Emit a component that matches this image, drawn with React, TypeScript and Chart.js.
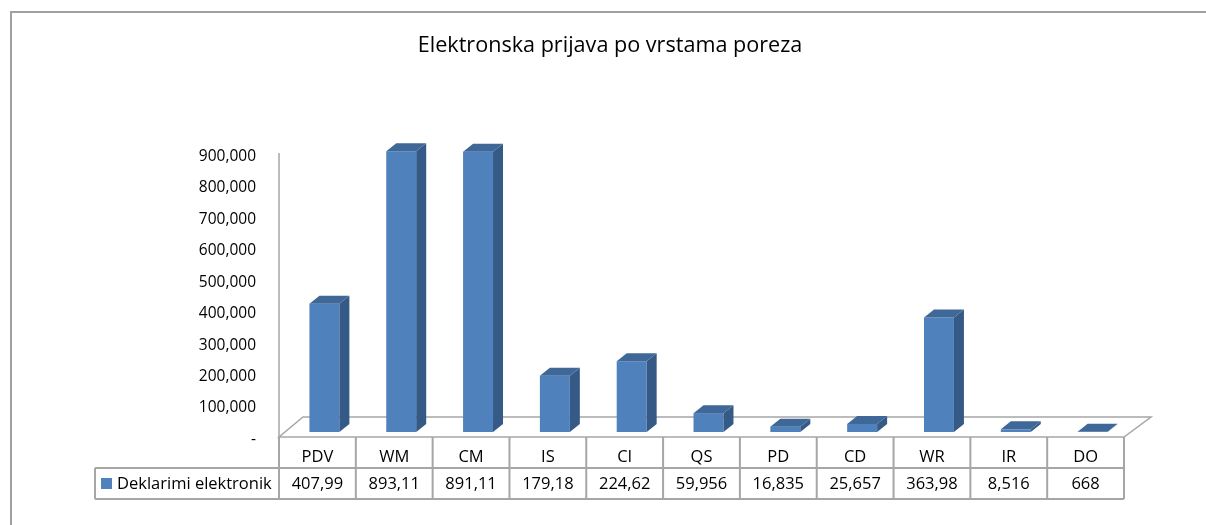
import React, { useEffect, useRef } from "react";
import { Chart, registerables } from "chart.js";

Chart.register(...registerables);

const chartTitle = "Elektronska prijava po vrstama poreza";
const seriesName = "Deklarimi elektronik";
const categories = ["PDV", "WM", "CM", "IS", "CI", "QS", "PD", "CD", "WR", "IR", "DO"];
const values = [407990, 893110, 891110, 179180, 224620, 59956, 16835, 25657, 363980, 8516, 668];
const tableLabels = ["407,99", "893,11", "891,11", "179,18", "224,62", "59,956", "16,835", "25,657", "363,98", "8,516", "668"];
const yMin = 0;
const yMax = 900000;
const yStep = 100000;

const FONT = "'Open Sans', 'Liberation Sans', sans-serif";
const FRONT = "#4F81BD";
const SIDE = "#355A86";
const TOP = "#3F6899";
const LINE = "#A6A6A6";

const SHIFT = 7; // bars sit at mid depth of the floor
const FLOOR_DX = 25;
const FLOOR_DY = -20;
const BAR_DX = 10;
const BAR_DY = -8;
const ROW_H = 31;

const threeD = {
  id: "threeD",
  beforeDatasetsDraw(chart: any) {
    const ctx = chart.ctx;
    const { left, right, top } = chart.chartArea;
    const y0 = chart.scales.y.getPixelForValue(0);
    const fy = y0 + 5;
    const fx0 = left - SHIFT;
    const fx1 = right - SHIFT;
    ctx.save();
    // outer border
    ctx.strokeStyle = "#A0A0A0";
    ctx.lineWidth = 2;
    ctx.beginPath();
    ctx.moveTo(11, 600);
    ctx.lineTo(11, 12);
    ctx.lineTo(1300, 12);
    ctx.stroke();
    // floor
    ctx.strokeStyle = LINE;
    ctx.lineWidth = 1.5;
    ctx.beginPath();
    ctx.moveTo(fx0, fy);
    ctx.lineTo(fx1, fy);
    ctx.lineTo(fx1 + FLOOR_DX + 2, fy + FLOOR_DY);
    ctx.lineTo(fx0 + FLOOR_DX - 1, fy + FLOOR_DY);
    ctx.closePath();
    ctx.stroke();
    // vertical axis line
    ctx.beginPath();
    ctx.moveTo(fx0, fy);
    ctx.lineTo(fx0, top + 4);
    ctx.stroke();
    ctx.restore();
  },
  afterDatasetsDraw(chart: any) {
    const ctx = chart.ctx;
    const meta = chart.getDatasetMeta(0);
    ctx.save();
    meta.data.forEach((bar: any) => {
      const x0 = bar.x - bar.width / 2;
      const x1 = bar.x + bar.width / 2;
      const t = Math.min(bar.y, bar.base);
      const b = Math.max(bar.y, bar.base);
      ctx.fillStyle = SIDE;
      ctx.beginPath();
      ctx.moveTo(x1, t);
      ctx.lineTo(x1 + BAR_DX, t + BAR_DY);
      ctx.lineTo(x1 + BAR_DX, b + BAR_DY);
      ctx.lineTo(x1, b);
      ctx.closePath();
      ctx.fill();
      ctx.fillStyle = TOP;
      ctx.beginPath();
      ctx.moveTo(x0, t);
      ctx.lineTo(x1, t);
      ctx.lineTo(x1 + BAR_DX, t + BAR_DY);
      ctx.lineTo(x0 + BAR_DX, t + BAR_DY);
      ctx.closePath();
      ctx.fill();
    });
    ctx.restore();
  },
  afterDraw(chart: any) {
    const ctx = chart.ctx;
    const { left, right } = chart.chartArea;
    const y0 = chart.scales.y.getPixelForValue(0);
    const fy = y0 + 5;
    const fx0 = left - SHIFT;
    const fx1 = right - SHIFT;
    const n = categories.length;
    const colW = (fx1 - fx0) / n;
    const labelX0 = 95;
    ctx.save();
    // title
    ctx.fillStyle = "#000";
    ctx.font = `21.6px ${FONT}`;
    ctx.textAlign = "center";
    ctx.textBaseline = "middle";
    ctx.fillText(chartTitle, 610, 46);
    // table grid
    ctx.strokeStyle = LINE;
    ctx.lineWidth = 2;
    ctx.beginPath();
    ctx.moveTo(fx0, fy + ROW_H);
    ctx.lineTo(fx1, fy + ROW_H);
    ctx.moveTo(labelX0, fy + ROW_H);
    ctx.lineTo(fx0, fy + ROW_H);
    ctx.moveTo(labelX0, fy + 2 * ROW_H);
    ctx.lineTo(fx1, fy + 2 * ROW_H);
    ctx.moveTo(labelX0, fy + ROW_H);
    ctx.lineTo(labelX0, fy + 2 * ROW_H);
    for (let i = 0; i <= n; i++) {
      const x = fx0 + i * colW;
      ctx.moveTo(x, fy);
      ctx.lineTo(x, fy + 2 * ROW_H);
    }
    ctx.stroke();
    // header + values
    ctx.fillStyle = "#000";
    ctx.font = `16.5px ${FONT}`;
    ctx.textAlign = "center";
    ctx.textBaseline = "middle";
    categories.forEach((c, i) => {
      const cx = fx0 + (i + 0.5) * colW;
      ctx.fillText(c, cx, fy + ROW_H / 2 + 5);
      ctx.fillText(tableLabels[i], cx, fy + ROW_H * 1.5 + 1);
    });
    // legend key
    ctx.fillStyle = FRONT;
    ctx.fillRect(labelX0 + 6, fy + ROW_H + 10, 11, 11);
    ctx.fillStyle = "#000";
    ctx.textAlign = "left";
    ctx.fillText(seriesName, labelX0 + 22, fy + ROW_H * 1.5 + 1);
    ctx.restore();
  },
};

export default function App() {
  const ref = useRef<HTMLCanvasElement>(null);
  useEffect(() => {
    if (!ref.current) return;
    const chart = new Chart(ref.current, {
      type: "bar",
      data: {
        labels: categories,
        datasets: [
          {
            label: seriesName,
            data: values,
            backgroundColor: FRONT,
            borderWidth: 0,
            categoryPercentage: 1,
            barPercentage: 0.39,
          },
        ],
      },
      options: {
        animation: false,
        responsive: false,
        devicePixelRatio: 1,
        layout: { padding: { top: 149, right: 75, bottom: 93, left: 0 } },
        plugins: {
          legend: { display: false },
          title: { display: false },
          tooltip: { enabled: false },
        },
        scales: {
          x: { display: false },
          y: {
            min: yMin,
            max: yMax,
            afterFit(scale: any) {
              scale.width = 286;
            },
            grid: { display: false, drawTicks: false },
            border: { display: false },
            ticks: {
              stepSize: yStep,
              padding: 30,
              labelOffset: 7.5,
              color: "#000",
              font: { family: FONT, size: 15.5 },
              callback: (v: any) => (Number(v) === 0 ? "-" : Number(v).toLocaleString("en-US")),
            },
          },
        },
      },
      plugins: [threeD],
    });
    return () => chart.destroy();
  }, []);
  return (
    <div style={{ position: "absolute", left: 0, top: 0, width: 1206, height: 525 }}>
      <canvas ref={ref} width={1206} height={525} style={{ display: "block" }} />
    </div>
  );
}
